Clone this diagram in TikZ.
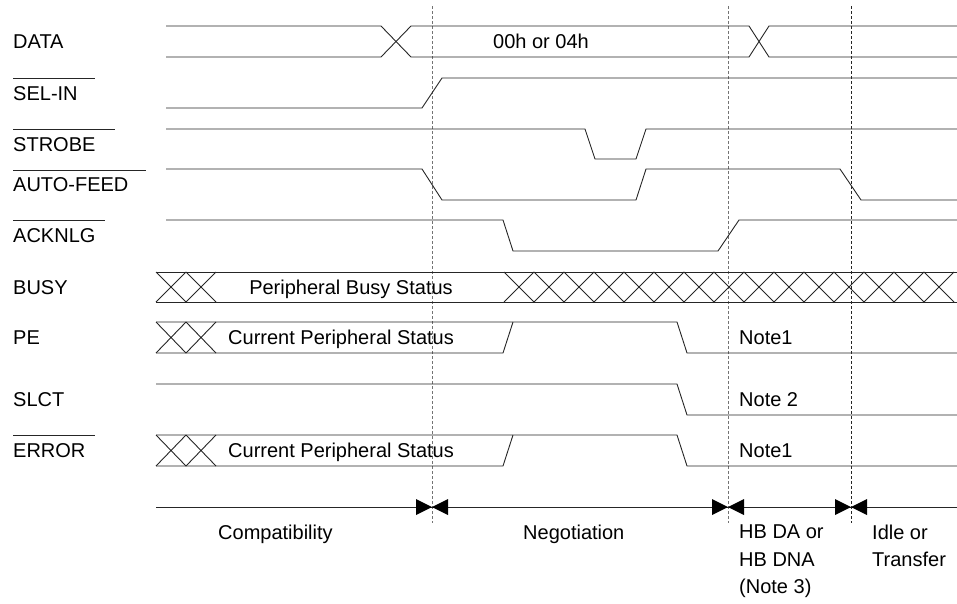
\documentclass[tikz,border=0pt]{standalone}
\usepackage{fontspec}
\setmainfont{Liberation Sans}
\tikzset{
  sig/.style={line width=0.9pt, black!85},
  phase/.style={line width=0.8pt, dash pattern=on 2.5pt off 2.5pt, black!55},
  lbl/.style={anchor=base west, inner sep=0pt},
  pics/phasemark/.style={code={
    \fill (-16,-8) -- (0,0) -- (-16,8) -- cycle;
    \fill (16,-8) -- (0,0) -- (16,8) -- cycle;
  }}
}
\begin{document}
\begin{tikzpicture}[x=1pt, y=-1pt, every node/.style={font=\fontsize{20}{27.5}\selectfont}]
  \useasboundingbox (0,0) rectangle (957,603);

  % phase boundaries
  \foreach \x/\c in {432/55, 728/55, 851/85}
    \draw[phase, black!\c] (\x,6) -- (\x,523);

  % signal names
  \node[lbl] (data)  at (13,48.5)  {DATA};
  \node[lbl] (selin) at (13,100)   {SEL-IN};
  \node[lbl] (strb)  at (13,151)   {STROBE};
  \node[lbl] (afeed) at (13,191.5) {AUTO-FEED};
  \node[lbl] (ack)   at (13,242.5) {ACKNLG};
  \node[lbl] (busy)  at (13,294)   {BUSY};
  \node[lbl] (pe)    at (13,344.5) {PE};
  \node[lbl] (slct)  at (13,406.5) {SLCT};
  \node[lbl] (err)   at (13,457.5) {ERROR};
  \foreach \y/\l in {78/95, 129/115, 170/146, 220/105, 435/95}
    \draw[sig] (13,\y) -- (\l,\y);

  % DATA
  \draw[sig] (166,26) -- (381,26) -- (411,57) -- (749,57) -- (769,26) -- (957,26);
  \draw[sig] (166,57) -- (381,57) -- (411,26) -- (749,26) -- (769,57) -- (957,57);
  \node[lbl] (datav) at (493,48.5) {00h or 04h};

  % control lines
  \draw[sig] (166,108) -- (422,108) -- (442,78) -- (957,78);
  \draw[sig] (166,129) -- (585,129) -- (595,159) -- (636,159) -- (646,129) -- (957,129);
  \draw[sig] (166,169) -- (422,169) -- (442,200) -- (636,200) -- (646,169) -- (840,169) -- (861,200) -- (957,200);
  \draw[sig] (166,220) -- (503,220) -- (513,251) -- (718,251) -- (739,220) -- (957,220);

  % BUSY
  \begin{scope}[yshift=-272pt]
    \draw[sig] (156,0) -- (957,0) (156,30) -- (957,30);
    \foreach \x in {156,186,504,534,...,924}
      \draw[sig] (\x,0) -- ++(30,30) (\x,30) -- ++(30,-30);
    \node[lbl, anchor=base] (busyv) at (351,22) {Peripheral Busy Status};
  \end{scope}

  % PE
  \begin{scope}[yshift=-322pt]
    \draw[sig] (156,0) -- (677,0) -- (687,31) -- (957,31);
    \draw[sig] (156,31) -- (503,31) -- (513,0);
    \foreach \x in {156,186}
      \draw[sig] (\x,0) -- ++(30,31) (\x,31) -- ++(30,-31);
    \node[lbl] (pev) at (228,22.5) {Current Peripheral Status};
    \node[lbl] (pen) at (739,22.5) {Note1};
  \end{scope}

  % SLCT
  \begin{scope}[yshift=-384pt]
    \draw[sig] (156,0) -- (677,0) -- (687,31) -- (957,31);
    \node[lbl] (slctn) at (739,22.5) {Note 2};
  \end{scope}

  % ERROR
  \begin{scope}[yshift=-435pt]
    \draw[sig] (156,0) -- (677,0) -- (687,31) -- (957,31);
    \draw[sig] (156,31) -- (503,31) -- (513,0);
    \foreach \x in {156,186}
      \draw[sig] (\x,0) -- ++(30,31) (\x,31) -- ++(30,-31);
    \node[lbl] (errv) at (228,22.5) {Current Peripheral Status};
    \node[lbl] (errn) at (739,22.5) {Note1};
  \end{scope}

  % phases
  \coordinate (t0) at (156,507);
  \coordinate (t1) at (957,507);
  \draw[sig] (t0) -- (t1);
  \foreach \x in {432,728,851}
    \pic at (\x,507) {phasemark};
  \node[lbl] (compat) at (218,539) {Compatibility};
  \node[lbl] (negot)  at (523,539) {Negotiation};
  \node[lbl, anchor=north west, align=left] (hb)   at (739,524.7) {HB DA or\\HB DNA\\(Note 3)};
  \node[lbl, anchor=north west, align=left] (idle) at (872,524.7) {Idle or\\Transfer};
\end{tikzpicture}
\end{document}
